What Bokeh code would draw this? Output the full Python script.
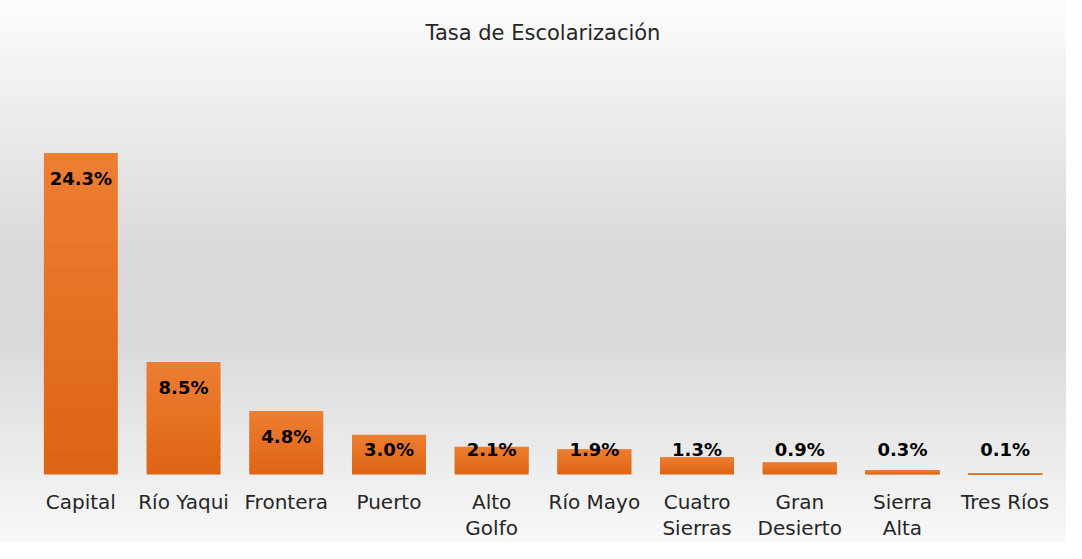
from bokeh.plotting import figure
from bokeh.models import ColumnDataSource, Range1d
from bokeh.embed import file_html
from bokeh.resources import INLINE
from bokeh.core.properties import value

# ---- data ----
regions = ["Capital", "Río Yaqui", "Frontera", "Puerto", "Alto Golfo",
           "Río Mayo", "Cuatro Sierras", "Gran Desierto", "Sierra Alta", "Tres Ríos"]
rates = [24.3, 8.5, 4.8, 3.0, 2.1, 1.9, 1.3, 0.9, 0.3, 0.1]
tick_labels = ["Capital", "Río Yaqui", "Frontera", "Puerto", "Alto\nGolfo",
               "Río Mayo", "Cuatro\nSierras", "Gran\nDesierto", "Sierra\nAlta", "Tres Ríos"]
chart_title = "Tasa de Escolarización"

FONT = "DejaVu Sans"
TOP_RGB = (238, 126, 50)
BOT_RGB = (221, 100, 20)

H = 543
BASE = 474                      # pixel row of the bar baseline inside the figure
PX_PER_UNIT = (BASE - 77) / 30.0
Y_MIN = -(H - BASE) / PX_PER_UNIT
Y_MAX = BASE / PX_PER_UNIT

p = figure(x_range=regions, y_range=Range1d(Y_MIN, Y_MAX), width=1066, height=H,
           output_backend="svg", toolbar_location=None,
           min_border_left=29, min_border_right=10, min_border_top=0, min_border_bottom=0)
p.border_fill_color = None
p.background_fill_color = None
p.outline_line_color = None
p.styles = {
    "background": "linear-gradient(to bottom, #fdfdfd 0%, #f3f3f3 12%, #dadada 45%, #d9d9d9 62%, #ececec 85%, #f8f8f8 100%)",
    "box-shadow": "-2px -2px 0 -1px #d4d4d4",
}

# gradient bars built as stacked, slightly overlapping slices of each bar
n = 14
xs, bots, tops, cols = [], [], [], []
for r, v in zip(regions, rates):
    for k in range(n):
        t = (k + 0.5) / n
        c = tuple(int(round(BOT_RGB[j] + (TOP_RGB[j] - BOT_RGB[j]) * t)) for j in range(3))
        xs.append(r)
        bots.append(v * k / n)
        tops.append(min(v, v * (k + 1) / n + 0.12))
        cols.append("#%02x%02x%02x" % c)
src = ColumnDataSource(dict(x=xs, bottom=bots, top=tops, color=cols))
p.vbar(x="x", bottom="bottom", top="top", width=0.72, source=src,
       fill_color="color", line_color=None)

# data labels
lab_y = [max(v - 1.9, 1.9) for v in rates]
lab_txt = ["%.1f%%" % v for v in rates]
lsrc = ColumnDataSource(dict(x=regions, y=lab_y, t=lab_txt))
p.text(x="x", y="y", text="t", source=lsrc, text_align="center", text_baseline="middle",
       text_font=value(FONT), text_font_style="bold", text_font_size="18px", text_color="#000000")

# category labels (one text per line)
cx, cy, ct = [], [], []
for r, lab in zip(regions, tick_labels):
    for i, line in enumerate(lab.split("\n")):
        cx.append(r)
        cy.append(-(27 + 26 * i) / PX_PER_UNIT)
        ct.append(line)
csrc = ColumnDataSource(dict(x=cx, y=cy, t=ct))
p.text(x="x", y="y", text="t", source=csrc, text_align="center", text_baseline="middle",
       text_font=value(FONT), text_font_size="20px", text_color="#262626")

# chart title, centred over the plot (between the 5th and 6th category)
band = (1066 - 29 - 10) / len(regions)
tsrc = ColumnDataSource(dict(x=[regions[len(regions) // 2 - 1]], y=[(BASE - 32) / PX_PER_UNIT], t=[chart_title]))
p.text(x="x", y="y", text="t", source=tsrc, x_offset=band / 2, text_align="center",
       text_baseline="middle", text_font=value(FONT), text_font_size="21px", text_color="#262626")

# axes
p.xaxis.visible = False
p.yaxis.visible = False
p.xgrid.grid_line_color = None
p.ygrid.grid_line_color = None
p.x_range.range_padding = 0

open("out.html", "w").write(file_html(p, INLINE))
